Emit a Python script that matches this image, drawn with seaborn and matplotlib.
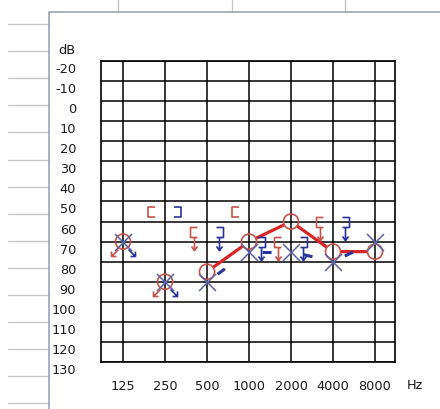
import numpy as np
import pandas as pd
import matplotlib
import matplotlib.pyplot as plt
import seaborn as sns
from matplotlib.path import Path
from matplotlib.transforms import ScaledTranslation, blended_transform_factory

# ---------------------------------------------------------
# Audiogram data (dB HL per frequency)
# ---------------------------------------------------------
freqs = [125, 250, 500, 1000, 2000, 4000, 8000]
freq_labels = ["125", "250", "500", "1000", "2000", "4000", "8000"]
db_ticks = list(range(-20, 131, 10))

right_air = [70, 90, 85, 70, 60, 75, 75]      # red O
left_air = [70, 90, 90, 75, 75, 80, 70]       # blue X

# air conduction with no response (arrows)
air_nr_freqs = [125, 250]
right_air_nr = [70, 90]
left_air_nr = [70, 90]

# masked bone conduction
right_bone_freqs = [250, 1000]
right_bone = [55, 55]
right_bone_nr_freqs = [500, 2000, 4000]
right_bone_nr = [65, 70, 60]
left_bone_freqs = [250]
left_bone = [55]
left_bone_nr_freqs = [500, 1000, 2000, 4000]
left_bone_nr = [65, 70, 70, 60]

RED = "#c9524a"
RED_LINE = "#d82424"
BLUE = "#26349c"
BLUE_X = "#5a63a8"
DPI = 100

sns.set_style("white")
plt.rcParams["font.family"] = ["DejaVu Sans"]
plt.rcParams["lines.scale_dashes"] = False


def make_marker(strokes):
    """Build an open path marker; 1 unit = 1 pixel."""
    verts, codes = [], []
    for s in strokes:
        for i, p in enumerate(s):
            verts.append(p)
            codes.append(Path.MOVETO if i == 0 else Path.LINETO)
    ext = np.abs(np.array(verts, dtype=float)).max()
    return Path(verts, codes), 2 * ext * 72 / DPI


# brackets (y up, pixels relative to the data point)
m_rb, s_rb = make_marker([[(-10, 5), (-17, 5), (-17, -5), (-10, -5)]])
m_lb, s_lb = make_marker([[(9, 5), (16, 5), (16, -5), (9, -5)]])
m_rb_nr, s_rb_nr = make_marker([[(-10, 5), (-17, 5), (-17, -5), (-10, -5)],
                                [(-13, -5), (-13, -18)],
                                [(-16, -14), (-13, -18), (-10, -14)]])
m_lb_nr, s_lb_nr = make_marker([[(9, 5), (16, 5), (16, -5), (9, -5)],
                                [(12, -5), (12, -18)],
                                [(9, -14), (12, -18), (15, -14)]])
m_ra_nr, s_ra_nr = make_marker([[(-5, -7), (-12, -14)],
                                [(-12, -9), (-12, -14), (-7, -14)]])
m_la_nr, s_la_nr = make_marker([[(5, -7), (12, -14)],
                                [(12, -9), (12, -14), (7, -14)]])

fig = plt.figure(figsize=(4.4, 4.1), dpi=DPI)

# ---------------------------------------------------------
# background sheet (window frame and row lines)
# ---------------------------------------------------------
bg = fig.add_axes([0, 0, 1, 1])
bg.set_xlim(0, 440)
bg.set_ylim(410, 0)
bg.axis("off")
for y in np.arange(25, 410, 27.1):
    bg.plot([8, 49], [y, y], color="#c4c4c4", lw=0.9)
for x in [118, 232, 345]:
    bg.plot([x, x], [0, 13], color="#c4c4c4", lw=0.9)
bg.plot([49, 49, 440], [410, 13, 13], color="#98a4b6", lw=1.2)

# ---------------------------------------------------------
# audiogram grid
# ---------------------------------------------------------
ax = fig.add_axes([101 / 440, 47 / 410, 294 / 440, 301 / 410])
ax.set_xscale("log", base=2)
ax.set_xlim(125 * 2 ** (-22 / 42), 8000 * 2 ** (20 / 42))
ax.set_ylim(130, -20)
ax.set_xticks(freqs)
ax.set_xticklabels(freq_labels)
ax.xaxis.set_minor_locator(matplotlib.ticker.NullLocator())
ax.set_yticks(db_ticks)
ax.set_yticklabels([])
ax.tick_params(length=0, labelsize=9.3, pad=12.5, colors="#1a1a1a")
ax.grid(True, color="black", lw=1.1)
ax.set_axisbelow(True)
for sp in ax.spines.values():
    sp.set_color("black")
    sp.set_linewidth(1.2)

off = ScaledTranslation(-25 / DPI, -7.5 / DPI, fig.dpi_scale_trans)
trans_y = blended_transform_factory(ax.transAxes, ax.transData) + off
for d in db_ticks:
    ax.text(0, d, str(d), transform=trans_y, ha="right", va="center",
            fontsize=9.3, color="#1a1a1a")
ax.text(0, 1, "dB", ha="center", va="center", fontsize=9.3, color="#1a1a1a",
        transform=ax.transAxes + ScaledTranslation(-34 / DPI, 12 / DPI, fig.dpi_scale_trans))
ax.text(1, 0, "Hz", ha="center", va="center", fontsize=9.3, color="#1a1a1a",
        transform=ax.transAxes + ScaledTranslation(20 / DPI, -23 / DPI, fig.dpi_scale_trans))

# ---------------------------------------------------------
# connecting lines
# ---------------------------------------------------------
line_f = freqs[2:]
line_r = right_air[2:]
line_l = left_air[2:]
for i in range(len(line_f) - 1):
    ax.annotate("", xy=(line_f[i + 1], line_r[i + 1]), xytext=(line_f[i], line_r[i]),
                arrowprops=dict(arrowstyle="-", color=RED_LINE, lw=2.3,
                                shrinkA=6, shrinkB=6), zorder=3)
for i in range(len(line_f) - 1):
    ax.plot(line_f[i:i + 2], line_l[i:i + 2], color=BLUE, lw=2.2,
            linestyle=(206.5 - 9.4, (6.5, 200)), zorder=4)

# ---------------------------------------------------------
# air conduction symbols
# ---------------------------------------------------------
df = pd.DataFrame({"freq": freqs, "right": right_air, "left": left_air})
sns.scatterplot(data=df, x="freq", y="right", marker="o", s=118, color=RED,
                facecolor="none", edgecolor=RED, linewidth=1.2, ax=ax, zorder=5)
sns.scatterplot(data=df, x="freq", y="left", marker="x", s=150, color=BLUE_X,
                linewidth=1.1, ax=ax, zorder=5)
ax.set_xlabel("")
ax.set_ylabel("")

ax.plot(air_nr_freqs, right_air_nr, ls="none", marker=m_ra_nr, ms=s_ra_nr,
        mfc="none", mec=RED, mew=1.2, zorder=5)
ax.plot(air_nr_freqs, left_air_nr, ls="none", marker=m_la_nr, ms=s_la_nr,
        mfc="none", mec=BLUE, mew=1.2, zorder=5)

# ---------------------------------------------------------
# masked bone conduction symbols
# ---------------------------------------------------------
ax.plot(right_bone_freqs, right_bone, ls="none", marker=m_rb, ms=s_rb,
        mfc="none", mec=RED, mew=1.2, zorder=5)
ax.plot(right_bone_nr_freqs, right_bone_nr, ls="none", marker=m_rb_nr, ms=s_rb_nr,
        mfc="none", mec=RED, mew=1.2, zorder=5)
ax.plot(left_bone_freqs, left_bone, ls="none", marker=m_lb, ms=s_lb,
        mfc="none", mec=BLUE, mew=1.2, zorder=5)
ax.plot(left_bone_nr_freqs, left_bone_nr, ls="none", marker=m_lb_nr, ms=s_lb_nr,
        mfc="none", mec=BLUE, mew=1.2, zorder=5)

fig.savefig("out.png", dpi=DPI)
